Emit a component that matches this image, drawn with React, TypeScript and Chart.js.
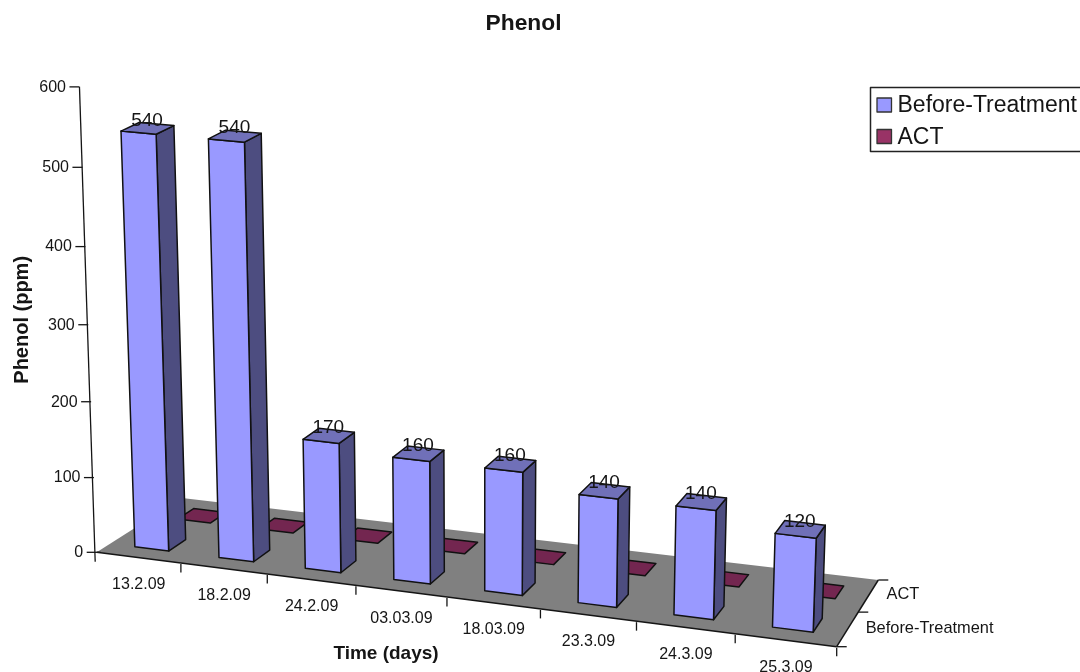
import React, { useEffect, useRef } from "react";
import { Chart, registerables } from "chart.js";

Chart.register(...registerables);

const chartTitle = "Phenol";
const xTitle = "Time (days)";
const yTitle = "Phenol (ppm)";
const sampleDates = ["13.2.09", "18.2.09", "24.2.09", "03.03.09", "18.03.09", "23.3.09", "24.3.09", "25.3.09"];
const beforeTreatment = [540, 540, 170, 160, 160, 140, 140, 120];
const act = [0, 0, 0, 0, 0, 0, 0, 0];

const FONT = '"Liberation Sans", Arial, sans-serif';
const INK = "#151515";

// Floor corners of the 3D view: front-left, front-right, back-right, back-left.
const FL = { x: 96.7, y: 552.3 };
const FR = { x: 836.7, y: 646.7 };
const BR = { x: 878.3, y: 580 };
const BL = { x: 182, y: 498 };
// Point where the vertical edges of the view converge.
const VANISH = { x: 481, y: 10930 };

const sx = FL.x - FR.x + BR.x - BL.x;
const sy = FL.y - FR.y + BR.y - BL.y;
const d1x = FR.x - BR.x;
const d1y = FR.y - BR.y;
const d2x = BL.x - BR.x;
const d2y = BL.y - BR.y;
const den = d1x * d2y - d2x * d1y;
const g = (sx * d2y - d2x * sy) / den;
const h = (d1x * sy - sx * d1y) / den;

// Maps a floor position (along the categories, into the depth) to the canvas.
function floorPoint(t: number, d: number) {
  const w = g * t + h * d + 1;
  return {
    x: ((FR.x - FL.x + g * FR.x) * t + (BL.x - FL.x + h * BL.x) * d + FL.x) / w,
    y: ((FR.y - FL.y + g * FR.y) * t + (BL.y - FL.y + h * BL.y) * d + FL.y) / w,
    w,
  };
}

// Lifts a floor position by a fraction of the value axis, foreshortened a little toward the top.
function project(t: number, d: number, n: number, axisHeight: number) {
  const p = floorPoint(t, d);
  const lift = (axisHeight * (0.9558 * n + 0.0442 * n * n)) / Math.sqrt(p.w);
  const vx = p.x - VANISH.x;
  const vy = p.y - VANISH.y;
  const len = Math.hypot(vx, vy);
  return { x: p.x + (vx / len) * lift, y: p.y + (vy / len) * lift };
}

type Pt = { x: number; y: number };

function fillPoly(ctx: CanvasRenderingContext2D, pts: Pt[], fill: string, stroke?: string, lw = 1.5) {
  ctx.beginPath();
  pts.forEach((p, i) => (i ? ctx.lineTo(p.x, p.y) : ctx.moveTo(p.x, p.y)));
  ctx.closePath();
  ctx.fillStyle = fill;
  ctx.fill();
  if (stroke) {
    ctx.strokeStyle = stroke;
    ctx.lineWidth = lw;
    ctx.lineJoin = "round";
    ctx.stroke();
  }
}

function line(ctx: CanvasRenderingContext2D, a: Pt, b: Pt, lw = 1.3) {
  ctx.beginPath();
  ctx.moveTo(a.x, a.y);
  ctx.lineTo(b.x, b.y);
  ctx.strokeStyle = INK;
  ctx.lineWidth = lw;
  ctx.stroke();
}

const shades: Record<string, { side: string; top: string }> = {
  "#9999FF": { side: "#4D4D80", top: "#7070B8" },
  "#993366": { side: "#4D1A33", top: "#732650" },
};

const view3d = {
  id: "view3d",
  afterLayout(chart: any) {
    // The title sits left of the canvas centre, over the plot and its margin.
    const block = chart.titleBlock;
    if (block) block.right = 1047;
  },
  beforeDatasetsDraw(chart: any) {
    const { ctx, chartArea, scales } = chart;
    const axisHeight = chartArea.bottom - chartArea.top;
    const x = scales.x;
    const y = scales.y;
    const rows = chart.data.datasets.length;
    const labels: string[] = x.getLabels();

    ctx.save();
    fillPoly(ctx, [FL, FR, BR, BL], "#808080");

    // Value axis, leaning with the view.
    ctx.font = `16px ${FONT}`;
    ctx.fillStyle = INK;
    ctx.textAlign = "right";
    ctx.textBaseline = "middle";
    line(ctx, project(0, 0, (y.bottom - y.getPixelForValue(600)) / axisHeight, axisHeight), { x: FL.x - 1.5, y: FL.y + 9.5 });
    y.ticks.forEach((tick: any) => {
      const n = (y.bottom - y.getPixelForValue(tick.value)) / axisHeight;
      const p = project(0, 0, n, axisHeight);
      line(ctx, { x: p.x - 10, y: p.y }, { x: tick.value === 0 ? p.x + 4 : p.x, y: p.y });
      ctx.fillStyle = INK;
      ctx.fillText(String(tick.value), p.x - 13.5, p.y + 0.5);
    });

    // Category axis along the front of the floor.
    line(ctx, FL, FR, 1.5);
    ctx.textAlign = "center";
    labels.forEach((label, i) => {
      const a = floorPoint(i / labels.length, 0);
      const b = floorPoint((i + 1) / labels.length, 0);
      line(ctx, { x: b.x, y: b.y + 1 }, { x: b.x, y: b.y + 9.5 });
      ctx.fillStyle = INK;
      ctx.fillText(label, (a.x + b.x) / 2, (a.y + b.y) / 2 + 27);
    });

    // Series axis along the right of the floor.
    line(ctx, FR, BR, 1.5);
    ctx.textAlign = "left";
    ctx.font = `16.4px ${FONT}`;
    for (let r = 0; r <= rows; r++) {
      const p = floorPoint(1, r / rows);
      line(ctx, p, { x: p.x + 10, y: p.y });
      if (r < rows) {
        const mid = floorPoint(1, (r + 0.5) / rows);
        ctx.fillStyle = INK;
        ctx.fillText(chart.data.datasets[r].label, mid.x + 18, mid.y - 1);
      }
    }
    ctx.restore();
  },
  beforeDatasetDraw() {
    // The columns are painted in perspective below, not as flat rectangles.
    return false;
  },
  afterDatasetsDraw(chart: any) {
    const { ctx, chartArea, scales } = chart;
    const axisHeight = chartArea.bottom - chartArea.top;
    const span = scales.x.right - scales.x.left;
    const rows = chart.data.datasets.length;
    const depthSize = 0.2;

    ctx.save();
    for (let r = rows - 1; r >= 0; r--) {
      const meta = chart.getDatasetMeta(r);
      const ds = chart.data.datasets[r];
      const tone = shades[ds.backgroundColor];
      const d0 = (r + 0.5) / rows - depthSize / 2;
      const d1 = d0 + depthSize;
      meta.data.forEach((bar: any) => {
        const mid = (bar.x - scales.x.left) / span;
        const half = bar.width / 2 / span;
        const n = (bar.base - bar.y) / axisHeight;
        const t0 = mid - half;
        const t1 = mid + half;
        const at = (t: number, d: number, v: number) => project(t, d, v, axisHeight);
        if (n > 0) {
          fillPoly(ctx, [at(t1, d0, 0), at(t1, d1, 0), at(t1, d1, n), at(t1, d0, n)], tone.side, "#111");
          fillPoly(ctx, [at(t0, d0, 0), at(t1, d0, 0), at(t1, d0, n), at(t0, d0, n)], ds.backgroundColor, "#111");
        }
        fillPoly(ctx, [at(t0, d0, n), at(t1, d0, n), at(t1, d1, n), at(t0, d1, n)], tone.top, "#111");
      });
    }

    // Value labels above the column tops.
    ctx.font = `19px ${FONT}`;
    ctx.fillStyle = INK;
    ctx.textAlign = "center";
    ctx.textBaseline = "middle";
    chart.data.datasets.forEach((ds: any, r: number) => {
      const meta = chart.getDatasetMeta(r);
      meta.data.forEach((bar: any, i: number) => {
        if (!ds.data[i]) return;
        const p = project((bar.x - scales.x.left) / span, (r + 0.5) / rows, (bar.base - bar.y) / axisHeight, axisHeight);
        ctx.fillText(String(ds.data[i]), p.x - 0.5, p.y - 8);
      });
    });

    // Legend box at the upper right, running off the canvas edge.
    const items = Chart.defaults.plugins.legend.labels.generateLabels(chart);
    ctx.strokeStyle = "#222";
    ctx.lineWidth = 1.5;
    ctx.strokeRect(870.5, 87.5, 215, 64);
    ctx.textAlign = "left";
    ctx.font = `23px ${FONT}`;
    items.forEach((item: any, i: number) => {
      const cy = 105 + i * 31.5;
      ctx.fillStyle = item.fillStyle;
      ctx.fillRect(877, cy - 7, 14.5, 14);
      ctx.strokeStyle = "#333";
      ctx.lineWidth = 1.3;
      ctx.strokeRect(877, cy - 7, 14.5, 14);
      ctx.fillStyle = INK;
      ctx.fillText(item.text, 897.5, cy + 1);
    });
    ctx.restore();
  },
};

export default function App() {
  const canvasRef = useRef<HTMLCanvasElement>(null);

  useEffect(() => {
    if (!canvasRef.current) return;
    const chart = new Chart(canvasRef.current, {
      type: "bar",
      data: {
        labels: sampleDates,
        datasets: [
          { label: "Before-Treatment", data: beforeTreatment, backgroundColor: "#9999FF", borderColor: "#111" },
          { label: "ACT", data: act, backgroundColor: "#993366", borderColor: "#111" },
        ],
      },
      options: {
        responsive: false,
        animation: false,
        events: [],
        layout: { padding: { left: 0, right: 405, top: 0, bottom: 0 } },
        datasets: { bar: { grouped: false, barPercentage: 0.405, categoryPercentage: 1 } },
        plugins: {
          legend: { display: false },
          tooltip: { enabled: false },
          title: {
            display: true,
            text: chartTitle,
            color: INK,
            font: { family: FONT, size: 22.8, weight: "bold" },
            padding: { top: 10, bottom: 49.6 },
          },
        },
        scales: {
          x: {
            grid: { display: false },
            border: { display: false },
            ticks: { display: false },
            title: {
              display: true,
              text: xTitle,
              color: INK,
              font: { family: FONT, size: 19, weight: "bold" },
              padding: { top: 0, bottom: 6.6 },
            },
            afterFit(scale: any) {
              scale.height = 119.3;
            },
          },
          y: {
            min: 0,
            max: 600,
            grid: { display: false },
            border: { display: false },
            ticks: { display: false, stepSize: 100 },
            title: {
              display: true,
              text: yTitle,
              color: INK,
              font: { family: FONT, size: 20, weight: "bold" },
              padding: { top: 10, bottom: 0 },
            },
            afterFit(scale: any) {
              scale.width = 97;
            },
          },
        },
      },
      plugins: [view3d],
    } as any);
    return () => chart.destroy();
  }, []);

  return (
    <div style={{ position: "absolute", left: 0, top: 0, width: 1080, height: 672, background: "#fff", overflow: "hidden" }}>
      <canvas ref={canvasRef} width={1080} height={672} style={{ display: "block" }} />
    </div>
  );
}
